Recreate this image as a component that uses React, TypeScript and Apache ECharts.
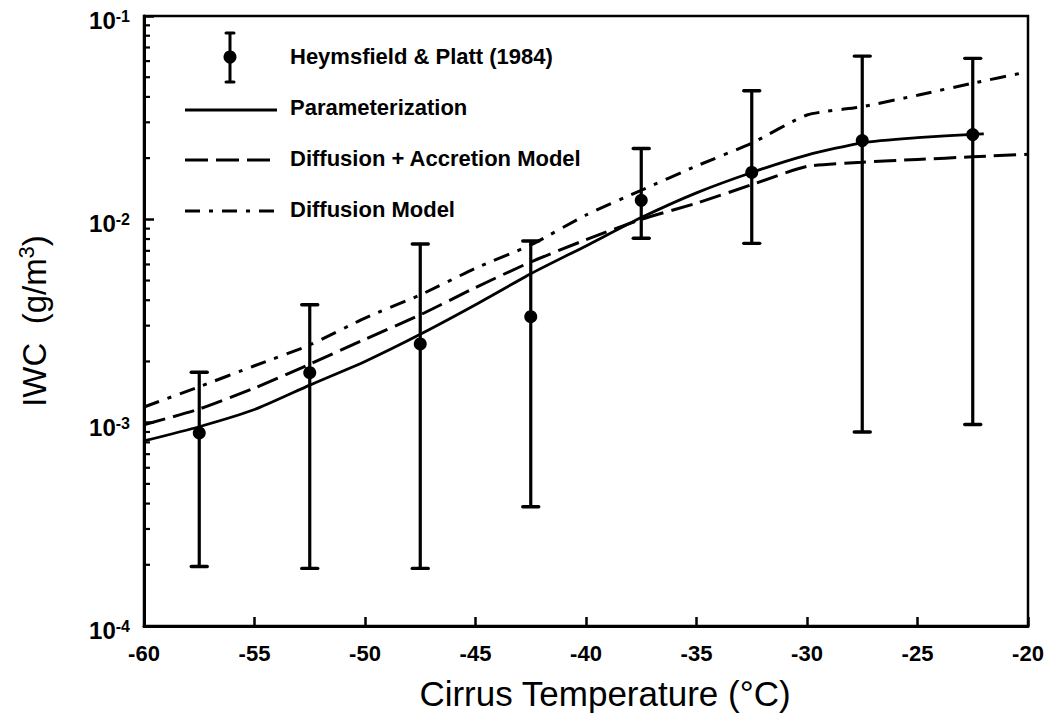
import React, { useEffect, useRef } from "react";
import * as echarts from "echarts";

// Heymsfield & Platt (1984) observations
const hpTemps = [-57.5, -52.5, -47.5, -42.5, -37.5, -32.5, -27.5, -22.5];
const hpMean = [8.9e-4, 1.76e-3, 2.44e-3, 3.32e-3, 1.24e-2, 1.7e-2, 2.44e-2, 2.61e-2];
const hpUpper = [1.77e-3, 3.8e-3, 7.56e-3, 7.82e-3, 2.23e-2, 4.29e-2, 6.35e-2, 6.19e-2];
const hpLower = [1.96e-4, 1.92e-4, 1.92e-4, 3.86e-4, 8.07e-3, 7.62e-3, 9.0e-4, 9.8e-4];

// Model curves
const modelTemps = [-60, -57.5, -55, -52.5, -50, -47.5, -45, -42.5, -40, -37.5, -35, -32.5, -30, -27.5, -25, -22.5, -20];
const paramTemps = [-60, -57.5, -55, -52.5, -50, -47.5, -45, -42.5, -40, -37.5, -35, -32.5, -30, -27.5, -25, -22.5, -22];
const paramValues = [8.13e-4, 9.55e-4, 1.16e-3, 1.53e-3, 2.0e-3, 2.72e-3, 3.8e-3, 5.4e-3, 7.4e-3, 1.02e-2, 1.35e-2, 1.7e-2, 2.07e-2, 2.38e-2, 2.52e-2, 2.62e-2, 2.63e-2];
const accretionValues = [9.77e-4, 1.167e-3, 1.48e-3, 1.94e-3, 2.57e-3, 3.39e-3, 4.62e-3, 6.17e-3, 7.94e-3, 1.0e-2, 1.2e-2, 1.48e-2, 1.82e-2, 1.91e-2, 1.97e-2, 2.03e-2, 2.09e-2];
const diffusionValues = [1.194e-3, 1.503e-3, 1.905e-3, 2.41e-3, 3.27e-3, 4.25e-3, 5.75e-3, 7.48e-3, 1.05e-2, 1.39e-2, 1.83e-2, 2.37e-2, 3.26e-2, 3.58e-2, 4.08e-2, 4.67e-2, 5.32e-2];

// Axis ticks
const yMinorTicks = [
  2e-4, 3e-4, 4e-4, 5e-4, 6e-4, 7e-4, 8e-4, 9e-4,
  2e-3, 3e-3, 4e-3, 5e-3, 6e-3, 7e-3, 8e-3, 9e-3,
  2e-2, 3e-2, 4e-2, 5e-2, 6e-2, 7e-2, 8e-2, 9e-2,
];

const legendLabels = [
  "Heymsfield & Platt (1984)",
  "Parameterization",
  "Diffusion + Accretion Model",
  "Diffusion Model",
];

const FONT = "'Liberation Sans', Arial, Helvetica, sans-serif";

export default function App() {
  const ref = useRef<HTMLDivElement>(null);

  useEffect(() => {
    document.body.style.margin = "0";
    const chart = echarts.init(ref.current!, null, { renderer: "svg" });

    const errData = hpTemps.map((t, i) => [t, hpLower[i], hpUpper[i]]);
    const meanData = hpTemps.map((t, i) => [t, hpMean[i]]);
    const pair = (ts: number[], vs: number[]) => ts.map((t, i) => [t, vs[i]]);

    const legendText = (y: number, text: string) => ({
      type: "text",
      left: 290,
      top: y - 12,
      style: { text, font: `bold 22px ${FONT}`, fill: "#000" },
    });

    const option: any = {
      animation: false,
      backgroundColor: "#fff",
      grid: {
        left: 144,
        right: 19,
        top: 16,
        bottom: 94,
        show: true,
        borderColor: "#000",
        borderWidth: 2.5,
        backgroundColor: "transparent",
      },
      xAxis: {
        type: "value",
        min: -60,
        max: -20,
        interval: 5,
        name: "Cirrus Temperature (°C)",
        nameLocation: "middle",
        nameGap: 50,
        nameTextStyle: { fontFamily: FONT, fontSize: 35, color: "#000", padding: [0, 0, 0, 38] },
        axisLine: { show: true, lineStyle: { color: "#000", width: 3 } },
        axisTick: { show: true, inside: true, length: 9, lineStyle: { color: "#000", width: 2.5 } },
        axisLabel: {
          color: "#000",
          fontFamily: FONT,
          fontSize: 22,
          fontWeight: "bold",
          margin: 16,
          showMinLabel: true,
          showMaxLabel: true,
        },
        splitLine: { show: false },
      },
      yAxis: {
        type: "log",
        logBase: 10,
        min: 1e-4,
        max: 1e-1,
        splitNumber: 3,
        name: "{t|IWC  (g/m}{u|3}{t|)}",
        nameLocation: "middle",
        nameGap: 93,
        nameTextStyle: {
          rich: {
            t: { fontFamily: FONT, fontSize: 33, color: "#000", lineHeight: 36, verticalAlign: "bottom" },
            u: { fontFamily: FONT, fontSize: 22, color: "#000", lineHeight: 36, verticalAlign: "top" },
          },
        },
        axisLine: { show: true, lineStyle: { color: "#000", width: 3 } },
        axisTick: { show: true, inside: true, length: 10, lineStyle: { color: "#000", width: 2.5 } },
        axisLabel: {
          margin: 14,
          padding: [9, 0, 0, 0],
          formatter: (v: number) => {
            const e = Math.round(Math.log10(v));
            return `{b|10}{s|${e}}`;
          },
          rich: {
            b: { fontFamily: FONT, fontSize: 24, fontWeight: "bold", color: "#000", lineHeight: 24, verticalAlign: "bottom" },
            s: { fontFamily: FONT, fontSize: 16, fontWeight: "bold", color: "#000", lineHeight: 24, verticalAlign: "top" },
          },
        },
        splitLine: { show: false },
      },
      series: [
        {
          name: "Diffusion Model",
          type: "line",
          data: pair(modelTemps, diffusionValues),
          showSymbol: false,
          smooth: 0.2,
          lineStyle: { color: "#000", width: 3, type: [16, 9, 4, 9] },
          z: 3,
        },
        {
          name: "Diffusion + Accretion Model",
          type: "line",
          data: pair(modelTemps, accretionValues),
          showSymbol: false,
          smooth: 0.2,
          lineStyle: { color: "#000", width: 3, type: [22, 8] },
          z: 3,
        },
        {
          name: "Parameterization",
          type: "line",
          data: pair(paramTemps, paramValues),
          showSymbol: false,
          smooth: 0.2,
          lineStyle: { color: "#000", width: 2.8 },
          z: 3,
        },
        {
          name: "Heymsfield & Platt (1984) range",
          type: "custom",
          data: errData,
          encode: { x: 0, y: [1, 2] },
          z: 4,
          renderItem: (_p: any, api: any) => {
            const x = api.value(0);
            const lo = api.coord([x, api.value(1)]);
            const hi = api.coord([x, api.value(2)]);
            const hw = 8;
            const st = { stroke: "#000", lineWidth: 3.4, lineCap: "round" };
            return {
              type: "group",
              children: [
                { type: "line", shape: { x1: lo[0], y1: lo[1], x2: hi[0], y2: hi[1] }, style: { stroke: "#000", lineWidth: 3.2 } },
                { type: "line", shape: { x1: hi[0] - hw, y1: hi[1], x2: hi[0] + hw, y2: hi[1] }, style: st },
                { type: "line", shape: { x1: lo[0] - hw, y1: lo[1], x2: lo[0] + hw, y2: lo[1] }, style: st },
              ],
            };
          },
        },
        {
          name: "Heymsfield & Platt (1984)",
          type: "scatter",
          data: meanData,
          symbol: "circle",
          symbolSize: 13,
          itemStyle: { color: "#000", opacity: 1 },
          z: 5,
        },
        {
          name: "minor ticks",
          type: "custom",
          data: yMinorTicks.map((v) => [-60, v]),
          encode: { x: 0, y: 1 },
          silent: true,
          z: 6,
          renderItem: (_p: any, api: any) => {
            const p = api.coord([api.value(0), api.value(1)]);
            return {
              type: "line",
              shape: { x1: p[0], y1: p[1], x2: p[0] + 6, y2: p[1] },
              style: { stroke: "#000", lineWidth: 2.2 },
            };
          },
        },
      ],
      graphic: [
        // legend: error bar icon
        { type: "line", shape: { x1: 230, y1: 33, x2: 230, y2: 82 }, style: { stroke: "#000", lineWidth: 3 } },
        { type: "line", shape: { x1: 226, y1: 33, x2: 234, y2: 33 }, style: { stroke: "#000", lineWidth: 3, lineCap: "round" } },
        { type: "line", shape: { x1: 226, y1: 82, x2: 234, y2: 82 }, style: { stroke: "#000", lineWidth: 3, lineCap: "round" } },
        { type: "circle", shape: { cx: 230, cy: 57, r: 6.5 }, style: { fill: "#000" } },
        // legend: lines
        { type: "line", shape: { x1: 185, y1: 110, x2: 277, y2: 110 }, style: { stroke: "#000", lineWidth: 3 } },
        { type: "line", shape: { x1: 185, y1: 160, x2: 277, y2: 160 }, style: { stroke: "#000", lineWidth: 3, lineDash: [23, 8] } },
        { type: "line", shape: { x1: 185, y1: 211, x2: 277, y2: 211 }, style: { stroke: "#000", lineWidth: 3, lineDash: [15, 9, 4, 9] } },
        legendText(57, legendLabels[0]),
        legendText(108, legendLabels[1]),
        legendText(159, legendLabels[2]),
        legendText(210, legendLabels[3]),
      ],
    };

    chart.setOption(option);
    return () => chart.dispose();
  }, []);

  return <div ref={ref} style={{ width: 1047, height: 720, background: "#fff" }} />;
}
